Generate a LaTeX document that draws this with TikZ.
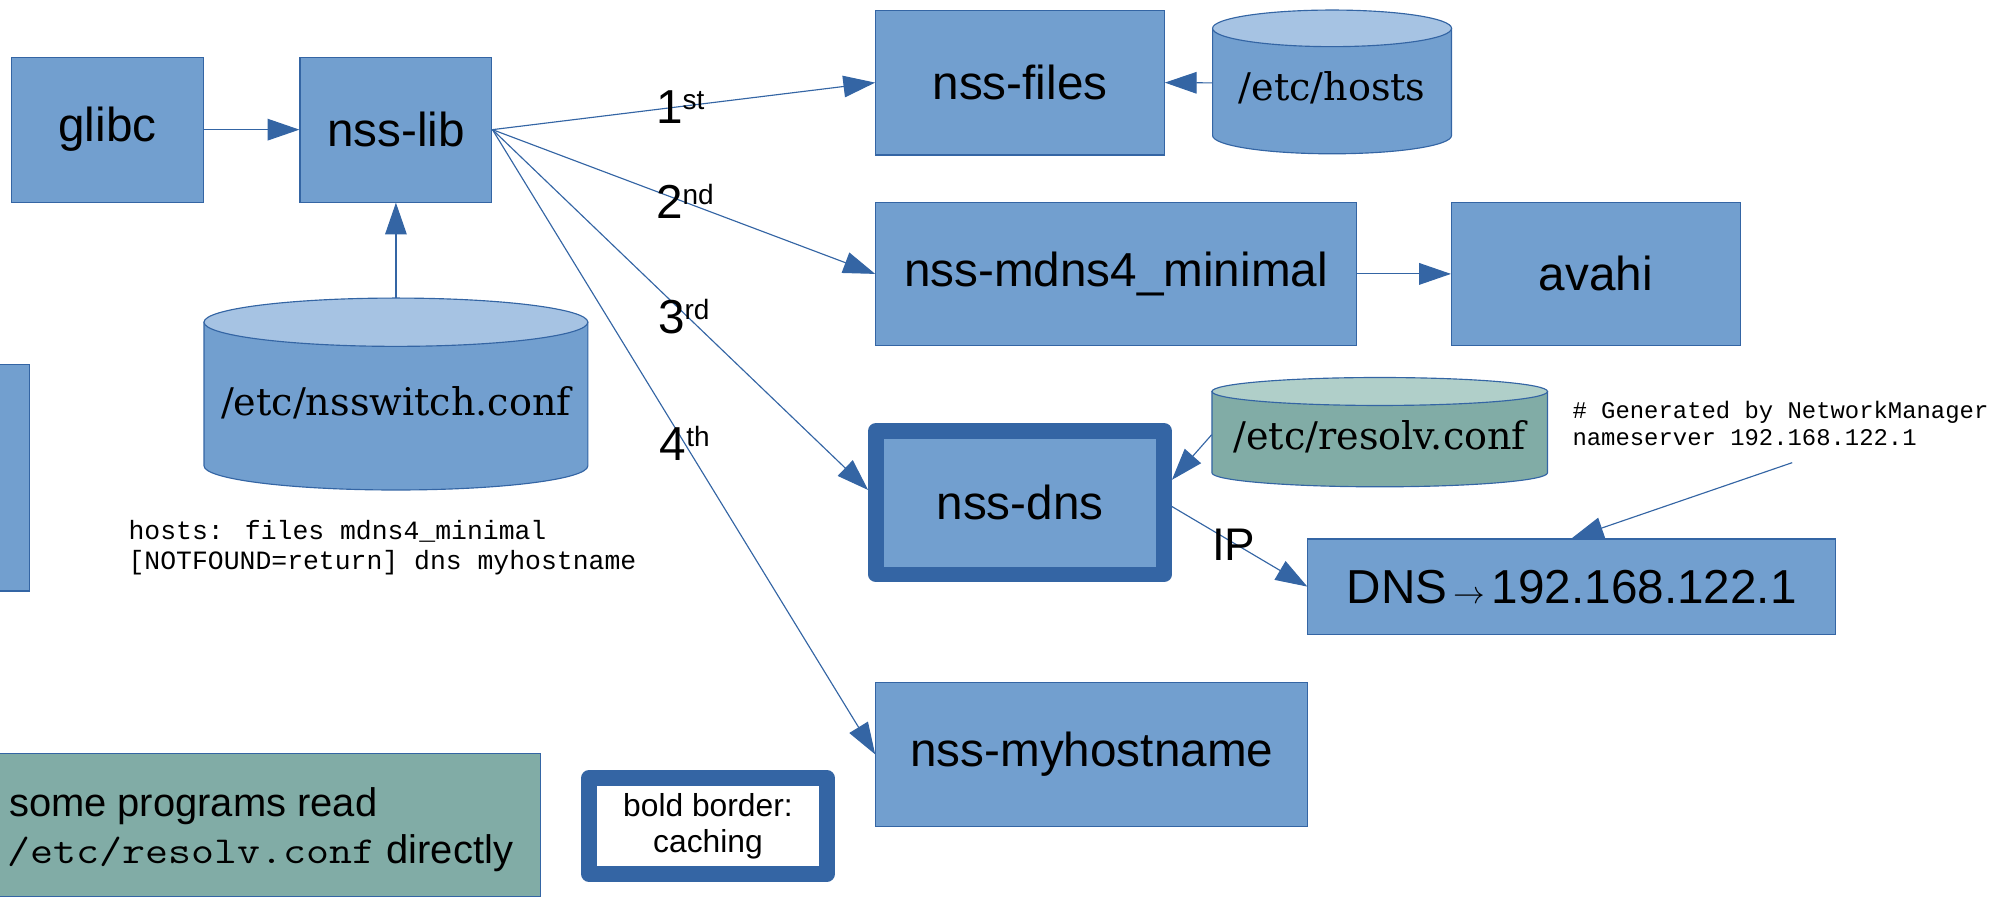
\documentclass[tikz,border=0pt]{standalone}
\usepackage{fontspec}
\usepackage{graphicx}
\setmainfont{Liberation Sans}
\newfontfamily\serifcyl{DejaVu Serif}
\newfontfamily\codefont{Liberation Mono}
\usetikzlibrary{arrows.meta}
\definecolor{boxfill}{HTML}{729FCF}
\definecolor{boxdraw}{HTML}{3465A4}
\definecolor{cyltop}{HTML}{A6C3E3}
\definecolor{greenbody}{HTML}{81ACA6}
\definecolor{greentop}{HTML}{B0CFC9}
\newcommand\drawcyl[7]{%
  \filldraw[draw=boxdraw, line width=0.9pt, fill=#6] ({#1-#4},#2) -- ({#1-#4},#3)
     arc[start angle=180, end angle=360, x radius=#4pt, y radius=#5pt] -- ({#1+#4},#2) -- cycle;
  \filldraw[draw=boxdraw, line width=0.9pt, fill=#7] (#1,#2) ellipse[x radius=#4pt, y radius=#5pt];}
\newcommand\ordlab[2]{#1\raisebox{11pt}{\fontsize{22}{22}\selectfont #2}}
\begin{document}
\begin{tikzpicture}[x=1pt,y=-1pt,
  box/.style={draw=boxdraw, fill=boxfill, line width=0.9pt, inner sep=0pt, font=\fontsize{37.5}{45}\selectfont},
  boldbox/.style={draw=boxdraw, line width=12.5pt, line join=round, inner sep=0pt},
  conn/.style={draw=boxdraw, line width=0.9pt, -{Triangle[length=25pt,width=17pt]}},
  cyltext/.style={inner sep=0pt, font=\serifcyl\fontsize{30}{36}\selectfont, text height=22pt, text depth=7pt},
  lab/.style={inner sep=0pt, anchor=base west, font=\fontsize{37.5}{45}\selectfont},
  code/.style={inner sep=0pt, anchor=base west, font=\codefont\fontsize{20.8}{24}\selectfont},
  gen/.style={inner sep=0pt, anchor=base west, font=\codefont\fontsize{18.8}{22}\selectfont},
]
\useasboundingbox (0,0) rectangle (1568,707);

% boxes
\node[box, minimum width=151pt, minimum height=114pt] (glibc) at (84.5,102) {glibc};
\node[box, minimum width=151pt, minimum height=114pt] (nsslib) at (311.5,102) {nss-lib};
\node[box, minimum width=227pt, minimum height=114pt] (nssfiles) at (802.5,65) {nss-files};
\node[box, minimum width=378pt, minimum height=113pt] (mdns) at (878,215.5) {nss-mdns4\_minimal};
\node[box, minimum width=227pt, minimum height=113pt] (avahi) at (1255.5,215.5) {avahi};
\node[boldbox, fill=boxfill, minimum width=226.5pt, minimum height=113pt, font=\fontsize{37.5}{45}\selectfont] (nssdns) at (802.5,395.5) {nss-dns};
\node[box, minimum width=415pt, minimum height=75pt] (dnsip) at (1236.5,461.5)
  {DNS\hspace{5pt}{\fontsize{24}{24}\selectfont$\rightarrow$}\hspace{5pt}192.168.122.1};
\node[box, minimum width=340pt, minimum height=113pt] (myhost) at (859,593.5) {nss-myhostname};
\node[box, minimum width=40pt, minimum height=178pt] (edgebox) at (3,376) {};

% cylinders
\drawcyl{1048}{22.3}{106.6}{94}{14.4}{boxfill}{cyltop}
\node[cyltext, minimum width=188pt] (hosts) at (1048,71.2) {/etc/hosts};
\drawcyl{1085.5}{308}{372}{132}{11}{greenbody}{greentop}
\node[cyltext, minimum width=264pt] (resolv) at (1085.5,346.5) {/etc/resolv.conf};
\drawcyl{311.5}{253.5}{366.5}{151}{19}{boxfill}{cyltop}
\node[cyltext, minimum width=302pt] (nsswitch) at (311.5,319) {/etc/nsswitch.conf};
\coordinate (nswtop) at (311.5,234.5);

% code texts
\node[code] (hostsA) at (101,424.3) {hosts: files mdns4\_minimal};
\node[code] (hostsB) at (101,447.9) {[NOTFOUND=return] dns myhostname};
\node[gen] (genA) at (1237,329) {\# Generated by NetworkManager};
\node[gen] (genB) at (1237,350.6) {nameserver 192.168.122.1};
\coordinate (genpt) at (1410,364);

% bottom notes
\node[draw=boxdraw, fill=greenbody, line width=0.9pt, minimum width=440pt, minimum height=112pt, inner sep=0pt] (progbox) at (205,649) {};
\node[lab, font=\fontsize{31.4}{38}\selectfont] (progA) at (7,642.5) {some programs read};
\node[lab, font=\fontsize{31.4}{38}\selectfont] (progB) at (6,679)
  {\scalebox{1.17}[1]{\ttfamily\fontsize{30}{36}\selectfont /etc/resolv.conf} directly};
\node[boldbox, fill=white, minimum width=187.5pt, minimum height=75pt, align=center, font=\fontsize{25}{28.5}\selectfont] (legend) at (557,649.8) {bold border:\\caching};

% connectors
\draw[conn] (glibc) -- (nsslib);
\draw[conn] (nswtop) -- (nsslib.south);
\draw[conn] (nsslib.east) -- (nssfiles.west);
\draw[conn] (nsslib.east) -- (mdns.west);
\draw[conn] (nsslib.east) -- ([yshift=10pt]nssdns.west);
\draw[conn] (nsslib.east) -- (myhost.west);
\draw[conn] ([yshift=6pt]hosts.west) -- (nssfiles.east);
\draw[conn] (mdns) -- (avahi);
\draw[conn] ([yshift=4.5pt]resolv.west) -- ([yshift=18pt]nssdns.east);
\draw[conn] ([yshift=-3pt]nssdns.east) -- (dnsip.west);
\draw[conn] (genpt) -- (dnsip.north);

% labels
\node[lab] (l1) at (516,97) {\ordlab{1}{st}};
\node[lab] (l2) at (516,171.7) {\ordlab{2}{nd}};
\node[lab] (l3) at (517.5,262) {\ordlab{3}{rd}};
\node[lab] (l4) at (519,362) {\ordlab{4}{th}};
\node[lab, font=\fontsize{36}{43}\selectfont] (ip) at (953.5,441) {IP};
\end{tikzpicture}
\end{document}
